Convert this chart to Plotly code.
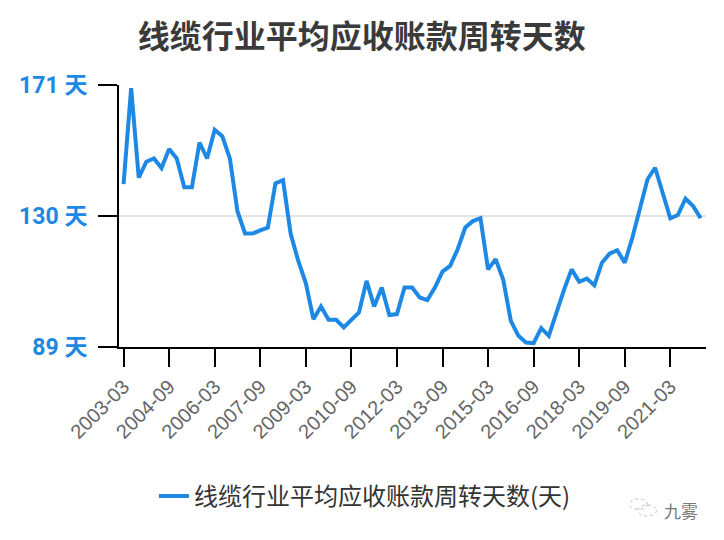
import plotly.graph_objs as go

########### Data ######

# quarterly periods, 2003-03 .. 2022-03
periods = []
for y in range(2003, 2023):
    for m in ['03', '06', '09', '12']:
        periods.append('%d-%s' % (y, m))
periods = periods[:77]

days = [140, 170, 142, 147, 148, 145, 151, 148, 139, 139,
        153, 148, 157, 155, 148, 131.5, 124.5, 124.5, 125.5, 126.4,
        140.2, 141.2, 124.5, 116, 109, 97.7, 101.7, 97.5, 97.5, 95.1,
        97.5, 99.8, 109.7, 101.7, 107.6, 99, 99.3, 107.6, 107.6, 104.5,
        103.7, 107.6, 112.6, 114.4, 119.6, 126.4, 128.4, 129.3, 113.3, 116.5,
        110, 97.2, 92.5, 90.4, 90.2, 94.9, 92.5, 100, 106.9, 113.3,
        109.4, 110.4, 108.3, 115.4, 118.2, 119.3, 115.4, 123.2, 132.6, 141.5,
        145.1, 137.3, 129.3, 130.3, 135.4, 133.1, 129.3]

y_ticks = [89, 130, 171]
y_labels = ['89 天', '130 天', '171 天']

title = '线缆行业平均应收账款周转天数'
series_name = '线缆行业平均应收账款周转天数(天)'

BLUE = '#1e88e5'
CJK = 'Noto Sans CJK SC, Noto Sans, sans-serif'

########### Figure ######

line = go.Scatter(x=list(range(len(days))), y=days, mode='lines',
                  name=series_name,
                  line=dict(color=BLUE, width=4))

fig = go.Figure([line])

# page body has an 8px margin, so the figure is a bit smaller than the window
fig.update_layout(
    width=716, height=532,
    paper_bgcolor='white', plot_bgcolor='white',
    margin=dict(l=111, r=18, t=77, b=193),
    title=dict(text='<b>' + title + '</b>', x=0.494, xanchor='center',
               y=0.945, yanchor='middle',
               font=dict(family=CJK, size=32, color='#3a3a3a')),
    showlegend=True,
    legend=dict(orientation='h', x=0.419, xanchor='center', y=-0.57, yanchor='middle',
                font=dict(family=CJK, size=24, color='#333333'),
                itemwidth=30),
)

fig.update_xaxes(
    automargin=False,
    range=[-0.6, 76.7],
    tickmode='array',
    tickvals=list(range(0, len(periods), 6)),
    ticktext=[periods[i] for i in range(0, len(periods), 6)],
    tickangle=-45,
    tickfont=dict(family='Liberation Sans, Arial', size=20, color='#666666'),
    ticks='outside', ticklen=18, tickwidth=2, tickcolor='black',
    showline=True, linecolor='black', linewidth=2,
    showgrid=False, zeroline=False,
)

fig.update_yaxes(
    automargin=False,
    range=[89, 171],
    tickmode='array', tickvals=y_ticks, ticktext=y_labels,
    tickfont=dict(family='Roboto, ' + CJK, size=23, color=BLUE, weight='bold'),
    ticks='outside', ticklen=19, tickwidth=2, tickcolor='black',
    ticklabelstandoff=6,
    showline=True, linecolor='black', linewidth=2,
    showgrid=True, gridcolor='#e3e3e3', gridwidth=2,
    zeroline=False,
)

# watermark
fig.add_shape(type='circle', xref='paper', yref='paper',
              x0=0.87, x1=0.9, y0=-0.62, y1=-0.58,
              line=dict(color='#bbbbbb', width=1, dash='dot'))
fig.add_shape(type='circle', xref='paper', yref='paper',
              x0=0.884, x1=0.916, y0=-0.645, y1=-0.603,
              line=dict(color='#bbbbbb', width=1, dash='dot'))
fig.add_annotation(text='九雾', xref='paper', yref='paper', x=0.99, y=-0.625,
                   xanchor='right', yanchor='middle', showarrow=False,
                   font=dict(family=CJK, size=17, color='#777777'))

fig.write_html('out.html')
